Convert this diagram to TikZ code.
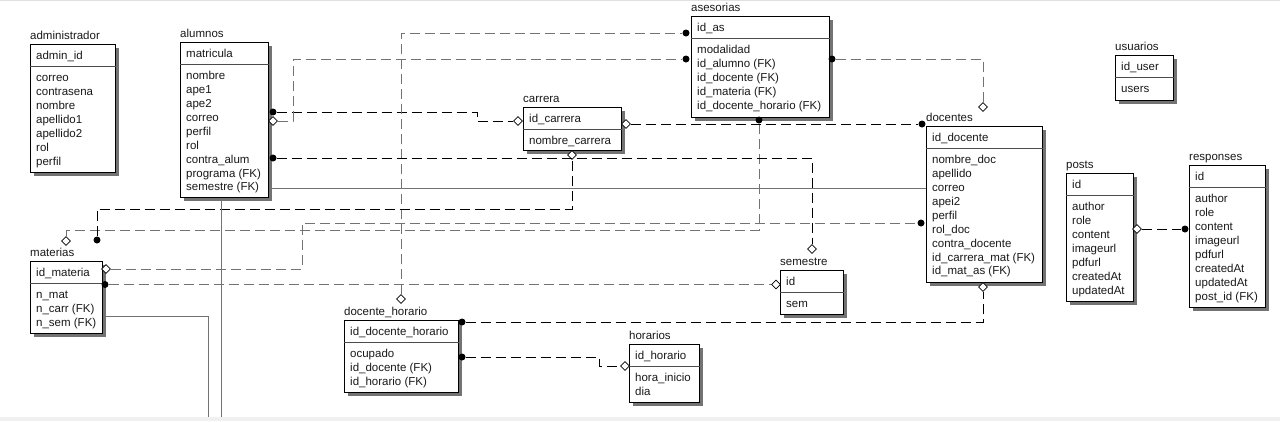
\documentclass[tikz,border=0pt]{standalone}
\usepackage{fontspec}
\setmainfont{Liberation Sans}
\usetikzlibrary{calc,positioning,shapes.geometric,shadows}

\begin{document}
\begin{tikzpicture}[x=1pt,y=-1pt,
        every node/.style={font=\fontsize{11.5}{13.9}\selectfont, text=black!90},
        ent/.style={draw=black, line width=0.9pt, fill=white, anchor=north west, inner sep=0,
            drop shadow={shadow xshift=3.5pt, shadow yshift=-3.5pt, fill=black!55, opacity=1}},
        ttl/.style={anchor=base west, inner sep=0, yshift=5pt},
        pkey/.style={anchor=base west, inner sep=0, xshift=6pt, yshift=-15.5pt},
        attrs/.style={anchor=north west, inner sep=0, align=left, xshift=6pt, yshift=-27.8pt},
        hline/.style={draw=black!70, line width=0.9pt},
        fkdot/.style={circle, fill=black, inner sep=0, minimum size=7pt},
        fkdia/.style={diamond, draw=black, fill=white, line width=0.7pt, inner sep=0, minimum size=9pt},
        rel/.style={draw=black, line width=0.9pt, dash pattern=on 10pt off 5pt},
        relg/.style={rel, draw=black!55},
        lnk/.style={draw=black!55, line width=0.9pt}]

        \useasboundingbox (0,0) rectangle (1280,421);
        \fill[white] (0,0) rectangle (1280,421);
        \fill[black!6] (0,417) rectangle (1280,421);
        \draw[black!12] (0,0.5) -- (1280,0.5);

        % tables
        \node[ent, minimum width=85, minimum height=128] (admin) at (30,44) {};
        \draw[hline] ($(admin.north west)+(0,22)$) -- ($(admin.north east)+(0,22)$);
        \node[ttl] at (admin.north west) {administrador};
        \node[pkey] at (admin.north west) {admin\_id};
        \node[attrs] at (admin.north west) {\strut correo\\contrasena\\nombre\\apellido1\\apellido2\\rol\\perfil};

        \node[ent, minimum width=88, minimum height=155] (alumnos) at (180,42) {};
        \draw[hline] ($(alumnos.north west)+(0,22)$) -- ($(alumnos.north east)+(0,22)$);
        \node[ttl] at (alumnos.north west) {alumnos};
        \node[pkey] at (alumnos.north west) {matricula};
        \node[attrs] at (alumnos.north west) {\strut nombre\\ape1\\ape2\\correo\\perfil\\rol\\contra\_alum\\programa (FK)\\semestre (FK)};

        \node[ent, minimum width=138, minimum height=101] (asesorias) at (691,16) {};
        \draw[hline] ($(asesorias.north west)+(0,22)$) -- ($(asesorias.north east)+(0,22)$);
        \node[ttl] at (asesorias.north west) {asesorias};
        \node[pkey] at (asesorias.north west) {id\_as};
        \node[attrs] at (asesorias.north west) {\strut modalidad\\id\_alumno (FK)\\id\_docente (FK)\\id\_materia (FK)\\id\_docente\_horario (FK)};

        \node[ent, minimum width=98, minimum height=43] (carrera) at (523,107) {};
        \draw[hline] ($(carrera.north west)+(0,22)$) -- ($(carrera.north east)+(0,22)$);
        \node[ttl] at (carrera.north west) {carrera};
        \node[pkey] at (carrera.north west) {id\_carrera};
        \node[attrs] at (carrera.north west) {\strut nombre\_carrera};

        \node[ent, minimum width=116, minimum height=156] (docentes) at (926,126) {};
        \draw[hline] ($(docentes.north west)+(0,22)$) -- ($(docentes.north east)+(0,22)$);
        \node[ttl] at (docentes.north west) {docentes};
        \node[pkey] at (docentes.north west) {id\_docente};
        \node[attrs] at (docentes.north west) {\strut nombre\_doc\\apellido\\correo\\apei2\\perfil\\rol\_doc\\contra\_docente\\id\_carrera\_mat (FK)\\id\_mat\_as (FK)};

        \node[ent, minimum width=58, minimum height=45] (usuarios) at (1115,55) {};
        \draw[hline] ($(usuarios.north west)+(0,22)$) -- ($(usuarios.north east)+(0,22)$);
        \node[ttl] at (usuarios.north west) {usuarios};
        \node[pkey] at (usuarios.north west) {id\_user};
        \node[attrs] at (usuarios.north west) {\strut users};

        \node[ent, minimum width=67, minimum height=128] (posts) at (1066,173) {};
        \draw[hline] ($(posts.north west)+(0,22)$) -- ($(posts.north east)+(0,22)$);
        \node[ttl] at (posts.north west) {posts};
        \node[pkey] at (posts.north west) {id};
        \node[attrs] at (posts.north west) {\strut author\\role\\content\\imageurl\\pdfurl\\createdAt\\updatedAt};

        \node[ent, minimum width=76, minimum height=142] (responses) at (1189,165) {};
        \draw[hline] ($(responses.north west)+(0,22)$) -- ($(responses.north east)+(0,22)$);
        \node[ttl] at (responses.north west) {responses};
        \node[pkey] at (responses.north west) {id};
        \node[attrs] at (responses.north west) {\strut author\\role\\content\\imageurl\\pdfurl\\createdAt\\updatedAt\\post\_id (FK)};

        \node[ent, minimum width=72, minimum height=72] (materias) at (30,261) {};
        \draw[hline] ($(materias.north west)+(0,22)$) -- ($(materias.north east)+(0,22)$);
        \node[ttl] at (materias.north west) {materias};
        \node[pkey] at (materias.north west) {id\_materia};
        \node[attrs] at (materias.north west) {\strut n\_mat\\n\_carr (FK)\\n\_sem (FK)};

        \node[ent, minimum width=63, minimum height=44] (semestre) at (780,270) {};
        \draw[hline] ($(semestre.north west)+(0,22)$) -- ($(semestre.north east)+(0,22)$);
        \node[ttl] at (semestre.north west) {semestre};
        \node[pkey] at (semestre.north west) {id};
        \node[attrs] at (semestre.north west) {\strut sem};

        \node[ent, minimum width=114, minimum height=72] (dochor) at (344,320) {};
        \draw[hline] ($(dochor.north west)+(0,22)$) -- ($(dochor.north east)+(0,22)$);
        \node[ttl] at (dochor.north west) {docente\_horario};
        \node[pkey] at (dochor.north west) {id\_docente\_horario};
        \node[attrs] at (dochor.north west) {\strut ocupado\\id\_docente (FK)\\id\_horario (FK)};

        \node[ent, minimum width=70, minimum height=58] (horarios) at (629,344) {};
        \draw[hline] ($(horarios.north west)+(0,22)$) -- ($(horarios.north east)+(0,22)$);
        \node[ttl] at (horarios.north west) {horarios};
        \node[pkey] at (horarios.north west) {id\_horario};
        \node[attrs] at (horarios.north west) {\strut hora\_inicio\\dia};

        % relationship ends
        \node[fkdot] (aluA) at (273,112) {};
        \node[fkdia] (aluB) at (273,121) {};
        \node[fkdot] (aluC) at (273,158) {};
        \node[fkdot] (aseA) at (686,33) {};
        \node[fkdot] (aseB) at (686,59) {};
        \node[fkdot] (aseC) at (832,59) {};
        \node[fkdot] (aseD) at (759,120) {};
        \node[fkdia] (carA) at (518,121) {};
        \node[fkdia] (carB) at (626,124) {};
        \node[fkdia] (carC) at (572,155) {};
        \node[fkdia] (docA) at (983,107) {};
        \node[fkdot] (docB) at (922,124) {};
        \node[fkdot] (docC) at (921,223) {};
        \node[fkdia] (docD) at (983,287) {};
        \node[fkdia] (semA) at (812,249) {};
        \node[fkdia] (semB) at (776,284.5) {};
        \node[fkdia] (matA) at (66,241) {};
        \node[fkdot] (matB) at (97,240) {};
        \node[fkdia] (matC) at (106,269) {};
        \node[fkdot] (matD) at (105,284.5) {};
        \node[fkdia] (dhA) at (401,299) {};
        \node[fkdot] (dhB) at (462,322) {};
        \node[fkdot] (dhC) at (462,357) {};
        \node[fkdia] (horA) at (625,366) {};
        \node[fkdia] (posA) at (1137,229) {};
        \node[fkdot] (resA) at (1185,229) {};
        \coordinate (edgeA) at (208,417);
        \coordinate (edgeB) at (221,417);

        % relationships
        \draw[rel] (aluA) -- (477,112) |- (carA);
        \draw[relg] (aluB) -- (293,121) |- (aseB);
        \draw[relg] (dhA) |- (aseA);
        \draw[relg] (aseC) -| (docA);
        \draw[relg] (matA) -- (66,230) -| (aseD);
        \draw[rel] (carB) -- (docB);
        \draw[rel] (matB) |- (572,209) -- (carC);
        \draw[rel] (aluC) -| (semA);
        \draw[lnk] (alumnos.east |- 0,188) -- (docentes.west |- 0,188);
        \draw[relg] (matC) -- (302,269) |- (docC);
        \draw[relg] (matD) -- (semB);
        \draw[lnk] (materias.east |- 0,316) -| (edgeA);
        \draw[lnk] (alumnos.south -| edgeB) -- (edgeB);
        \draw[rel] (dhB) -| (docD);
        \draw[rel] (dhC) -- (599,357) |- (horA);
        \draw[rel] (posA) -- (resA);
\end{tikzpicture}
\end{document}
